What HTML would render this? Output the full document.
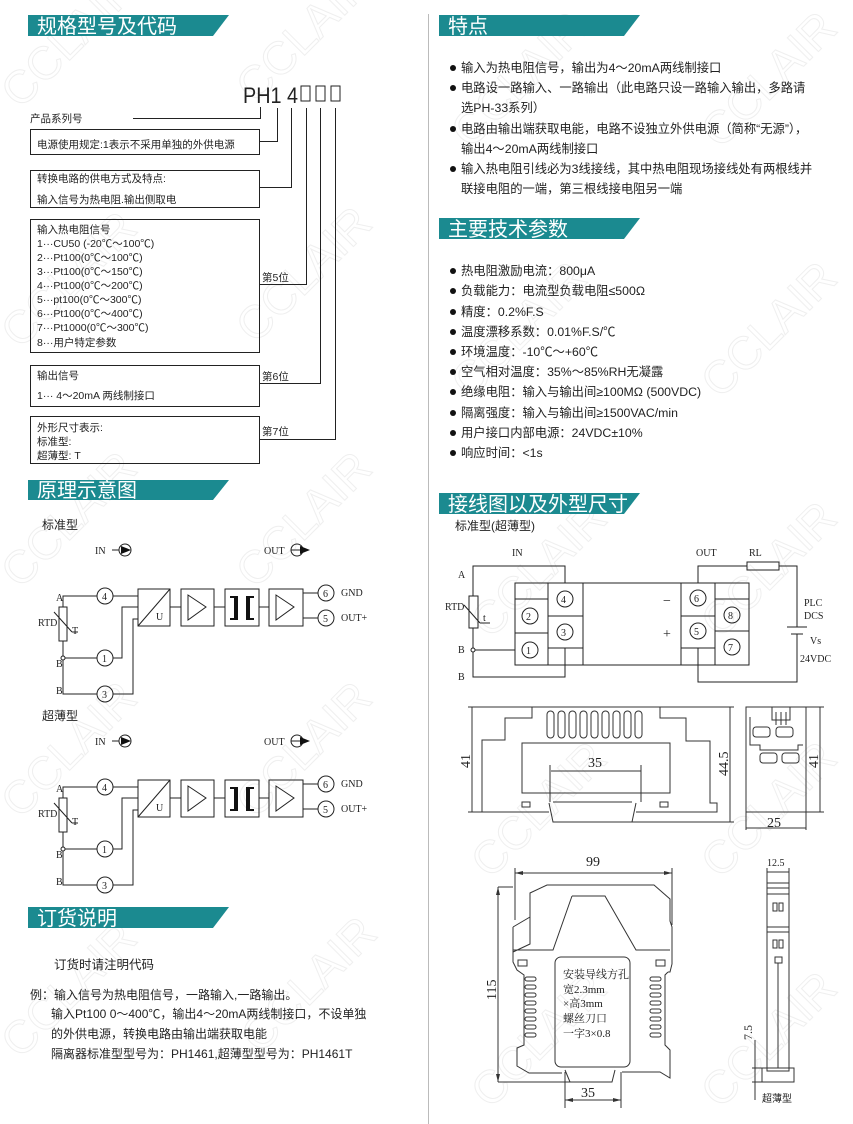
<!DOCTYPE html>
<html><head><meta charset="utf-8"><style>
html,body{margin:0;padding:0;background:#fff;}
svg{display:block;}
.t{font-family:"Liberation Sans","Noto Sans CJK SC",sans-serif;fill:#222;}
.s{font-family:"Liberation Serif","Noto Serif CJK SC",serif;fill:#222;}
.h{font-family:"Liberation Sans","Noto Sans CJK SC",sans-serif;fill:#fff;font-size:20px;}
.wm{font-family:"Liberation Sans",sans-serif;font-size:46px;fill:none;stroke:#efefef;stroke-width:1;}
</style></head><body>
<svg width="853" height="1124" viewBox="0 0 853 1124" xmlns="http://www.w3.org/2000/svg">
<rect width="853" height="1124" fill="#fff"/>
<g class="wm">
<text transform="translate(20,110) rotate(-45)">CCLAIR</text>
<text transform="translate(255,105) rotate(-45)">CCLAIR</text>
<text transform="translate(20,350) rotate(-45)">CCLAIR</text>
<text transform="translate(255,345) rotate(-45)">CCLAIR</text>
<text transform="translate(20,590) rotate(-45)">CCLAIR</text>
<text transform="translate(255,590) rotate(-45)">CCLAIR</text>
<text transform="translate(20,820) rotate(-45)">CCLAIR</text>
<text transform="translate(255,820) rotate(-45)">CCLAIR</text>
<text transform="translate(20,1060) rotate(-45)">CCLAIR</text>
<text transform="translate(260,1055) rotate(-45)">CCLAIR</text>
<text transform="translate(470,150) rotate(-45)">CCLAIR</text>
<text transform="translate(720,150) rotate(-45)">CCLAIR</text>
<text transform="translate(470,400) rotate(-45)">CCLAIR</text>
<text transform="translate(720,400) rotate(-45)">CCLAIR</text>
<text transform="translate(490,640) rotate(-45)">CCLAIR</text>
<text transform="translate(720,640) rotate(-45)">CCLAIR</text>
<text transform="translate(490,880) rotate(-45)">CCLAIR</text>
<text transform="translate(720,880) rotate(-45)">CCLAIR</text>
<text transform="translate(490,1110) rotate(-45)">CCLAIR</text>
<text transform="translate(720,1110) rotate(-45)">CCLAIR</text>
</g>
<line x1="428.5" y1="14" x2="428.5" y2="1124" stroke="#bbb" stroke-width="1"/>
<g fill="#1b8a90">
<polygon points="28,15 229,15 213,36 28,36"/>
<polygon points="439,15 640,15 624,36 439,36"/>
<polygon points="439,218 640,218 624,239 439,239"/>
<polygon points="28,480 229,480 213,500 28,500"/>
<polygon points="439,493 640,493 624,514 439,514"/>
<polygon points="28,907 229,907 213,928 28,928"/>
</g>
<text class="h" x="37" y="33">规格型号及代码</text>
<text class="h" x="448" y="33">特点</text>
<text class="h" x="448" y="236">主要技术参数</text>
<text class="h" x="37" y="497">原理示意图</text>
<text class="h" x="448" y="511">接线图以及外型尺寸</text>
<text class="h" x="37" y="925">订货说明</text>

<text class="t" x="243" y="103" font-size="22" textLength="55" lengthAdjust="spacingAndGlyphs">PH1 4</text>
<g fill="none" stroke="#222" stroke-width="1">
<rect x="301" y="86" width="9" height="15"/><rect x="316" y="86" width="9" height="15"/><rect x="331" y="86" width="9" height="15"/>
<polyline points="133,118.5 260.5,118.5 260.5,107"/>
<rect x="30.5" y="129.5" width="229" height="25"/>
<polyline points="260,141.5 277.5,141.5 277.5,108"/>
<rect x="30.5" y="170.5" width="229" height="37"/>
<polyline points="260,187.5 291.5,187.5 291.5,108"/>
<rect x="30.5" y="219.5" width="229" height="133"/>
<polyline points="260,284.5 306.5,284.5 306.5,108"/>
<rect x="30.5" y="365.5" width="229" height="41"/>
<polyline points="260,383.5 320.5,383.5 320.5,108"/>
<rect x="30.5" y="416.5" width="229" height="47"/>
<polyline points="260,439.5 335.5,439.5 335.5,108"/>
</g>
<g class="t" font-size="10.5">
<text x="30" y="122">产品系列号</text>
<text x="37" y="148">电源使用规定:1表示不采用单独的外供电源</text>
<text x="37" y="182">转换电路的供电方式及特点:</text>
<text x="37" y="203">输入信号为热电阻.输出侧取电</text>
<text x="37" y="233">输入热电阻信号</text>
<text x="37" y="247">1···CU50 (-20℃～100℃)</text>
<text x="37" y="261">2···Pt100(0℃～100℃)</text>
<text x="37" y="275">3···Pt100(0℃～150℃)</text>
<text x="37" y="289">4···Pt100(0℃～200℃)</text>
<text x="37" y="303">5···pt100(0℃～300℃)</text>
<text x="37" y="317">6···Pt100(0℃～400℃)</text>
<text x="37" y="331">7···Pt1000(0℃～300℃)</text>
<text x="37" y="346">8···用户特定参数</text>
<text x="262" y="281">第5位</text>
<text x="37" y="379">输出信号</text>
<text x="37" y="399">1··· 4～20mA 两线制接口</text>
<text x="262" y="380">第6位</text>
<text x="37" y="431">外形尺寸表示:</text>
<text x="37" y="445">标准型:</text>
<text x="37" y="459">超薄型: T</text>
<text x="262" y="435">第7位</text>
</g>

<g class="t" font-size="12.3">
<g fill="#111"><circle cx="453" cy="68" r="3"/><circle cx="453" cy="88" r="3"/><circle cx="453" cy="129" r="3"/><circle cx="453" cy="169" r="3"/></g>
<text x="461" y="72">输入为热电阻信号，输出为4～20mA两线制接口</text>
<text x="461" y="92">电路设一路输入、一路输出（此电路只设一路输入输出，多路请</text>
<text x="461" y="112">选PH-33系列）</text>
<text x="461" y="133">电路由输出端获取电能，电路不设独立外供电源（简称“无源”），</text>
<text x="461" y="153">输出4～20mA两线制接口</text>
<text x="461" y="173">输入热电阻引线必为3线接线，其中热电阻现场接线处有两根线并</text>
<text x="461" y="193">联接电阻的一端，第三根线接电阻另一端</text>
<g fill="#111"><circle cx="453" cy="271" r="3"/><circle cx="453" cy="291" r="3"/><circle cx="453" cy="312" r="3"/><circle cx="453" cy="332" r="3"/><circle cx="453" cy="352" r="3"/><circle cx="453" cy="372" r="3"/><circle cx="453" cy="392" r="3"/><circle cx="453" cy="413" r="3"/><circle cx="453" cy="433" r="3"/><circle cx="453" cy="453" r="3"/></g>
<text x="461" y="275">热电阻激励电流：800μA</text>
<text x="461" y="295">负载能力：电流型负载电阻≤500Ω</text>
<text x="461" y="316">精度：0.2%F.S</text>
<text x="461" y="336">温度漂移系数：0.01%F.S/℃</text>
<text x="461" y="356">环境温度：-10℃～+60℃</text>
<text x="461" y="376">空气相对温度：35%～85%RH无凝露</text>
<text x="461" y="396">绝缘电阻：输入与输出间≥100MΩ (500VDC)</text>
<text x="461" y="417">隔离强度：输入与输出间≥1500VAC/min</text>
<text x="461" y="437">用户接口内部电源：24VDC±10%</text>
<text x="461" y="457">响应时间：&lt;1s</text>
</g>

<g>
<text class="t" x="42" y="529" font-size="12">标准型</text>
<g class="s" font-size="10">
<text x="95" y="554">IN</text><text x="264" y="554">OUT</text>
<text x="56" y="601">A</text><text x="38" y="626">RTD</text><text x="72" y="634">T</text>
<text x="56" y="667">B</text><text x="56" y="694">B</text>
<text x="341" y="596">GND</text><text x="341" y="621">OUT+</text>
<text x="102" y="600">4</text><text x="102" y="662">1</text><text x="102" y="698">3</text>
<text x="323" y="597">6</text><text x="323" y="622">5</text>
<text x="156" y="620">U</text>
</g>
<g fill="none" stroke="#222" stroke-width="1">
<circle cx="125" cy="550" r="6"/><line x1="112" y1="550" x2="119" y2="550"/>
<circle cx="297" cy="550" r="6"/><line x1="291" y1="550" x2="303" y2="550"/>
<circle cx="105" cy="596" r="8"/><circle cx="105" cy="658" r="8"/><circle cx="105" cy="694" r="8"/>
<circle cx="326" cy="593" r="8"/><circle cx="326" cy="618" r="8"/>
<polyline points="63,607 63,596 97,596"/><line x1="113" y1="596" x2="138" y2="596"/>
<rect x="59" y="607" width="8" height="34"/>
<line x1="54" y1="612" x2="72" y2="632"/><line x1="72" y1="632" x2="78" y2="632"/>
<polyline points="63,641 63,694 97,694"/><line x1="63" y1="658" x2="97" y2="658"/>
<polyline points="113,658 122,658 122,607 138,607"/>
<polyline points="113,694 133,694 133,619 138,619"/>
<rect x="138" y="589" width="32" height="37"/><line x1="138" y1="626" x2="170" y2="589"/>
<line x1="170" y1="607" x2="181" y2="607"/>
<rect x="181" y="589" width="33" height="37"/><polygon points="188,595 188,620 206,607"/>
<line x1="214" y1="607" x2="225" y2="607"/>
<rect x="225" y="589" width="34" height="37"/>
<line x1="259" y1="607" x2="269" y2="607"/>
<rect x="269" y="589" width="34" height="37"/><polygon points="276,595 276,620 294,607"/>
<line x1="303" y1="593" x2="318" y2="593"/><line x1="303" y1="618" x2="318" y2="618"/>
</g>
<g fill="#111">
<polygon points="121,546 131,550 121,554"/><polygon points="300,546 310,550 300,554"/>
<rect x="234" y="596" width="4" height="24"/><rect x="246" y="596" width="4" height="24"/>
<rect x="230" y="596" width="6" height="2"/><rect x="230" y="618" width="6" height="2"/>
<rect x="248" y="596" width="6" height="2"/><rect x="248" y="618" width="6" height="2"/>
</g>
<circle cx="63" cy="658" r="2" fill="#fff" stroke="#222"/>
</g>
<g transform="translate(0,191)">
<text class="t" x="42" y="529" font-size="12">超薄型</text>
<g class="s" font-size="10">
<text x="95" y="554">IN</text><text x="264" y="554">OUT</text>
<text x="56" y="601">A</text><text x="38" y="626">RTD</text><text x="72" y="634">T</text>
<text x="56" y="667">B</text><text x="56" y="694">B</text>
<text x="341" y="596">GND</text><text x="341" y="621">OUT+</text>
<text x="102" y="600">4</text><text x="102" y="662">1</text><text x="102" y="698">3</text>
<text x="323" y="597">6</text><text x="323" y="622">5</text>
<text x="156" y="620">U</text>
</g>
<g fill="none" stroke="#222" stroke-width="1">
<circle cx="125" cy="550" r="6"/><line x1="112" y1="550" x2="119" y2="550"/>
<circle cx="297" cy="550" r="6"/><line x1="291" y1="550" x2="303" y2="550"/>
<circle cx="105" cy="596" r="8"/><circle cx="105" cy="658" r="8"/><circle cx="105" cy="694" r="8"/>
<circle cx="326" cy="593" r="8"/><circle cx="326" cy="618" r="8"/>
<polyline points="63,607 63,596 97,596"/><line x1="113" y1="596" x2="138" y2="596"/>
<rect x="59" y="607" width="8" height="34"/>
<line x1="54" y1="612" x2="72" y2="632"/><line x1="72" y1="632" x2="78" y2="632"/>
<polyline points="63,641 63,694 97,694"/><line x1="63" y1="658" x2="97" y2="658"/>
<polyline points="113,658 122,658 122,607 138,607"/>
<polyline points="113,694 133,694 133,619 138,619"/>
<rect x="138" y="589" width="32" height="37"/><line x1="138" y1="626" x2="170" y2="589"/>
<line x1="170" y1="607" x2="181" y2="607"/>
<rect x="181" y="589" width="33" height="37"/><polygon points="188,595 188,620 206,607"/>
<line x1="214" y1="607" x2="225" y2="607"/>
<rect x="225" y="589" width="34" height="37"/>
<line x1="259" y1="607" x2="269" y2="607"/>
<rect x="269" y="589" width="34" height="37"/><polygon points="276,595 276,620 294,607"/>
<line x1="303" y1="593" x2="318" y2="593"/><line x1="303" y1="618" x2="318" y2="618"/>
</g>
<g fill="#111">
<polygon points="121,546 131,550 121,554"/><polygon points="300,546 310,550 300,554"/>
<rect x="234" y="596" width="4" height="24"/><rect x="246" y="596" width="4" height="24"/>
<rect x="230" y="596" width="6" height="2"/><rect x="230" y="618" width="6" height="2"/>
<rect x="248" y="596" width="6" height="2"/><rect x="248" y="618" width="6" height="2"/>
</g>
<circle cx="63" cy="658" r="2" fill="#fff" stroke="#222"/>
</g>

<g class="t" font-size="12.5">
<text x="54" y="969">订货时请注明代码</text>
<text x="30" y="999" font-size="12">例：输入信号为热电阻信号，一路输入,一路输出。</text>
<text x="51" y="1018" font-size="12">输入Pt100 0～400℃，输出4～20mA两线制接口，不设单独</text>
<text x="51" y="1038" font-size="12">的外供电源，转换电路由输出端获取电能</text>
<text x="51" y="1058" font-size="12">隔离器标准型型号为：PH1461,超薄型型号为：PH1461T</text>
</g>

<text class="t" x="455" y="530" font-size="12">标准型(超薄型)</text>
<g class="s" font-size="10">
<text x="512" y="556">IN</text><text x="458" y="578">A</text><text x="445" y="610">RTD</text><text x="483" y="621">t</text>
<text x="458" y="653">B</text><text x="458" y="680">B</text>
<text x="696" y="556">OUT</text><text x="749" y="556">RL</text>
<text x="804" y="606">PLC</text><text x="804" y="619">DCS</text><text x="810" y="644">Vs</text><text x="800" y="662">24VDC</text>
<text x="526" y="620">2</text><text x="526" y="654">1</text><text x="561" y="603">4</text><text x="561" y="636">3</text>
<text x="694" y="602">6</text><text x="694" y="635">5</text><text x="728" y="619">8</text><text x="728" y="651">7</text>
<text x="663" y="605" font-size="14">−</text><text x="663" y="638" font-size="14">+</text>
</g>
<g fill="none" stroke="#222" stroke-width="1">
<rect x="515" y="583" width="68" height="82"/><line x1="548" y1="583" x2="548" y2="665"/>
<line x1="515" y1="599" x2="548" y2="599"/><line x1="515" y1="633" x2="548" y2="633"/>
<line x1="548" y1="616" x2="583" y2="616"/><line x1="548" y1="648" x2="583" y2="648"/>
<rect x="583" y="583" width="98" height="82"/>
<rect x="681" y="583" width="68" height="82"/><line x1="715" y1="583" x2="715" y2="665"/>
<line x1="681" y1="616" x2="715" y2="616"/><line x1="681" y1="648" x2="715" y2="648"/>
<line x1="715" y1="599" x2="749" y2="599"/><line x1="715" y1="631" x2="749" y2="631"/>
<circle cx="530" cy="616" r="8"/><circle cx="530" cy="650" r="8"/><circle cx="565" cy="599" r="8"/><circle cx="565" cy="632" r="8"/>
<circle cx="698" cy="598" r="8"/><circle cx="698" cy="631" r="8"/><circle cx="732" cy="615" r="8"/><circle cx="732" cy="647" r="8"/>
<polyline points="473,596 473,566 565,566 565,583"/>
<rect x="469" y="596" width="9" height="32"/>
<line x1="464" y1="605" x2="480" y2="623"/><line x1="480" y1="623" x2="490" y2="623"/>
<polyline points="473,628 473,677 565,677 565,648"/>
<line x1="473" y1="650" x2="515" y2="650"/>
<polyline points="698,583 698,566 747,566"/><rect x="747" y="562" width="32" height="8"/>
<polyline points="779,566 797,566 797,627"/>
<line x1="787" y1="627" x2="807" y2="627"/><line x1="791" y1="634" x2="803" y2="634"/>
<polyline points="797,634 797,682 698,682 698,648"/>
</g>
<circle cx="473" cy="650" r="2" fill="#fff" stroke="#222"/>

<g fill="none" stroke="#333" stroke-width="1">
<polyline points="482,812 482,740 505,740 505,718 532,718 532,707 660,707 660,718 686,718 686,741 710,741 710,803 717,803 717,812 636,812"/>
<line x1="482" y1="812" x2="549" y2="812"/>
<polyline points="549,803 553,822 632,822 636,803"/>
<line x1="553" y1="802" x2="632" y2="802"/>
<rect x="547" y="711" width="7" height="27" rx="3.5"/><rect x="558" y="711" width="7" height="27" rx="3.5"/><rect x="569" y="711" width="7" height="27" rx="3.5"/>
<rect x="580" y="711" width="7" height="27" rx="3.5"/><rect x="591" y="711" width="7" height="27" rx="3.5"/><rect x="602" y="711" width="7" height="27" rx="3.5"/>
<rect x="613" y="711" width="7" height="27" rx="3.5"/><rect x="624" y="711" width="7" height="27" rx="3.5"/><rect x="635" y="711" width="7" height="27" rx="3.5"/>
<rect x="522" y="743" width="148" height="50"/>
<line x1="551" y1="771" x2="641" y2="771"/><line x1="550" y1="765" x2="550" y2="802"/><line x1="641" y1="765" x2="641" y2="802"/>
<rect x="522" y="802" width="8" height="5"/><rect x="660" y="802" width="8" height="5"/>
<line x1="468" y1="707" x2="532" y2="707"/><line x1="472" y1="707" x2="472" y2="812"/><line x1="468" y1="812" x2="482" y2="812"/>
<line x1="660" y1="707" x2="734" y2="707"/><line x1="730" y1="707" x2="730" y2="822"/><line x1="632" y1="822" x2="734" y2="822"/>
<rect x="746" y="707" width="60" height="105"/>
<line x1="806" y1="707" x2="824" y2="707"/><line x1="820" y1="707" x2="820" y2="812"/><line x1="806" y1="812" x2="824" y2="812"/>
<line x1="746" y1="812" x2="746" y2="830"/><line x1="806" y1="812" x2="806" y2="830"/><line x1="746" y1="828" x2="806" y2="828"/>
<polyline points="772,707 772,720 790,720 790,707"/>
<line x1="776" y1="712" x2="776" y2="725"/><line x1="781" y1="712" x2="781" y2="725"/><line x1="786" y1="712" x2="786" y2="725"/>
<rect x="753" y="727" width="17" height="10" rx="3"/><rect x="776" y="727" width="17" height="10" rx="3"/>
<rect x="760" y="753" width="17" height="10" rx="3"/><rect x="782" y="753" width="17" height="10" rx="3"/>
<polyline points="750,717 750,745 760,745 760,750 798,750 798,745 803,745"/>
</g>
<g class="s" font-size="14">
<text x="588" y="767">35</text>
<text x="767" y="827">25</text>
<text transform="translate(470,768) rotate(-90)">41</text>
<text transform="translate(728,776) rotate(-90)">44.5</text>
<text transform="translate(818,768) rotate(-90)">41</text>
</g>

<g fill="none" stroke="#333" stroke-width="1">
<line x1="515" y1="868" x2="515" y2="920"/><line x1="672" y1="868" x2="672" y2="925"/>
<line x1="515" y1="873" x2="672" y2="873"/>
<polyline points="513,927 530,917 530,893 547,885 654,885 670,899 670,921 672,927 672,964 670,972 668,972"/>
<polyline points="513,927 513,962 517,970 524,975 524,1045 517,1048 517,1066 529,1073 562,1073"/>
<polyline points="530,917 530,944 513,952"/>
<polyline points="572,896 605,896 636,950 670,950"/><polyline points="572,896 553,950 513,950"/>
<polyline points="668,972 665,975 665,1045 670,1050 670,1078 660,1072 622,1072"/>
<rect x="555" y="957" width="75" height="110" rx="6"/>
<rect x="518" y="960" width="9" height="6"/><rect x="656" y="960" width="9" height="6"/>
<rect x="525" y="977" width="11" height="4" rx="2"/><rect x="525" y="985" width="11" height="4" rx="2"/><rect x="525" y="993" width="11" height="4" rx="2"/><rect x="525" y="1001" width="11" height="4" rx="2"/><rect x="525" y="1009" width="11" height="4" rx="2"/><rect x="525" y="1017" width="11" height="4" rx="2"/><rect x="525" y="1025" width="11" height="4" rx="2"/><rect x="525" y="1033" width="11" height="4" rx="2"/>
<rect x="650" y="977" width="11" height="4" rx="2"/><rect x="650" y="985" width="11" height="4" rx="2"/><rect x="650" y="993" width="11" height="4" rx="2"/><rect x="650" y="1001" width="11" height="4" rx="2"/><rect x="650" y="1009" width="11" height="4" rx="2"/><rect x="650" y="1017" width="11" height="4" rx="2"/><rect x="650" y="1025" width="11" height="4" rx="2"/><rect x="650" y="1033" width="11" height="4" rx="2"/>
<polyline points="565,1070 570,1082 612,1082 615,1070"/>
<line x1="498" y1="887" x2="513" y2="887"/><line x1="498" y1="1082" x2="570" y2="1082"/><line x1="498" y1="887" x2="498" y2="1082"/>
<line x1="565" y1="1072" x2="565" y2="1108"/><line x1="621" y1="1072" x2="621" y2="1108"/><line x1="565" y1="1100" x2="621" y2="1100"/>
<rect x="767" y="883" width="22" height="188"/>
<line x1="767" y1="888" x2="789" y2="888"/><line x1="767" y1="894" x2="789" y2="894"/>
<line x1="767" y1="927" x2="789" y2="927"/><line x1="767" y1="932" x2="789" y2="932"/>
<rect x="773" y="903" width="4" height="8"/><rect x="779" y="903" width="4" height="8"/>
<rect x="773" y="940" width="4" height="8"/><rect x="779" y="940" width="4" height="8"/>
<rect x="775" y="957" width="7" height="6"/>
<line x1="778" y1="963" x2="778" y2="1068"/>
<rect x="762" y="1068" width="32" height="14"/>
<line x1="767" y1="868" x2="767" y2="883"/><line x1="789" y1="868" x2="789" y2="883"/><line x1="767" y1="872" x2="789" y2="872"/>
<line x1="762" y1="1068" x2="752" y2="1068"/><line x1="762" y1="1082" x2="752" y2="1082"/><line x1="755" y1="1040" x2="755" y2="1100"/>
</g>
<g fill="#333">
<polygon points="498,887 496,895 500,895"/><polygon points="498,1082 496,1074 500,1074"/>
<polygon points="515,873 523,871 523,875"/><polygon points="672,873 664,871 664,875"/>
<polygon points="565,1100 573,1098 573,1102"/><polygon points="621,1100 613,1098 613,1102"/>
</g>
<g class="s" font-size="14">
<text x="586" y="866">99</text>
<text x="581" y="1097">35</text>
<text transform="translate(496,1000) rotate(-90)">115</text>
</g>
<g class="s" font-size="11">
<text x="563" y="978">安装导线方孔</text>
<text x="563" y="993">宽2.3mm</text>
<text x="563" y="1007">×高3mm</text>
<text x="563" y="1022">螺丝刀口</text>
<text x="563" y="1037">一字3×0.8</text>
<text x="767" y="866" font-size="10">12.5</text>
<text transform="translate(752,1040) rotate(-90)" font-size="12">7.5</text>
</g>
<text class="t" x="762" y="1102" font-size="10">超薄型</text>
</svg>
</body></html>
